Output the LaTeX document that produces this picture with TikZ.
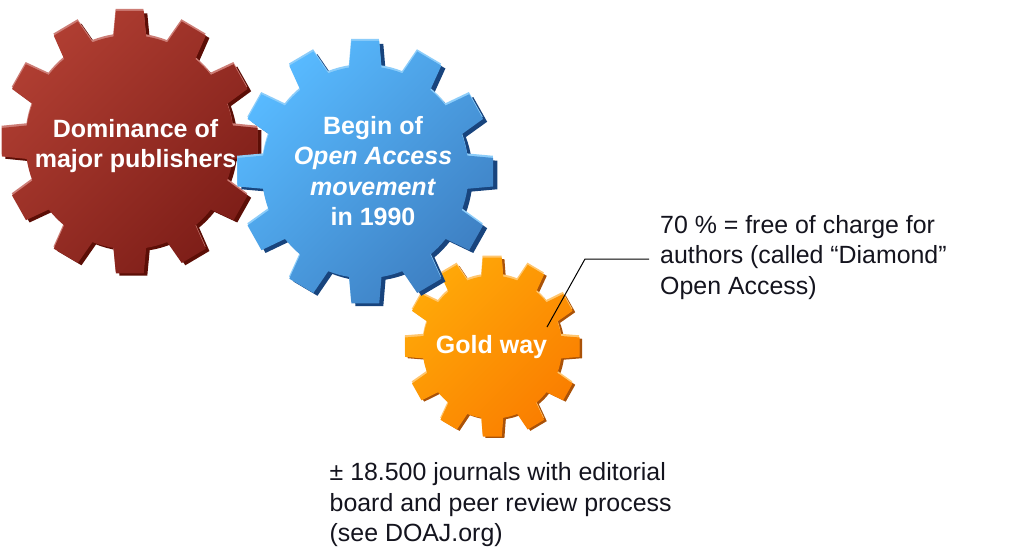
\documentclass[tikz,border=0pt]{standalone}
\usepackage{fontspec}
\setmainfont{Liberation Sans}
\definecolor{redA}{RGB}{176,62,50}
\definecolor{redB}{RGB}{126,30,24}
\definecolor{redD}{RGB}{92,14,6}
\definecolor{redL}{RGB}{205,125,118}
\definecolor{bluA}{RGB}{88,186,255}
\definecolor{bluB}{RGB}{62,128,195}
\definecolor{bluD}{RGB}{24,68,125}
\definecolor{bluL}{RGB}{140,205,250}
\definecolor{golA}{RGB}{255,168,8}
\definecolor{golB}{RGB}{250,126,0}
\definecolor{golD}{RGB}{170,82,8}
\definecolor{golL}{RGB}{255,198,110}
\definecolor{inkC}{RGB}{20,20,30}
\newcommand{\gearshape}[2]{%
  (6.2:#1 pt)
  \foreach \a in {0,30,...,330}{
    -- ({\a+6.2}:#1 pt) -- ({\a+9}:#2 pt)
    arc[start angle={\a+9},end angle={\a+21},radius=#2 pt]
    -- ({\a+23.8}:#1 pt) -- ({\a+36.2}:#1 pt)
  } -- cycle
}
\newcommand{\drawgear}[9]{% cx cy R r off dark light colA colB
  \begin{scope}[shift={(#1,-#2)},xscale=0.975]
    \fill[#6,shift={(#5,-#5-0.5)}] \gearshape{#3}{#4};
    \fill[#7] \gearshape{#3}{#4};
    \shade[shift={(0.3,-2.2)},top color=#8,bottom color=#9,shading angle=45] \gearshape{#3}{#4};
  \end{scope}
}
\tikzset{
  gearlabel/.style={text=white,font=\fontsize{25}{30.3}\selectfont\bfseries,align=center,inner sep=0pt},
  note/.style={text=inkC,font=\fontsize{24.9}{30.4}\selectfont,align=left,inner sep=0pt,anchor=north west},
  leader/.style={draw=black,line width=1pt}
}
\begin{document}
\begin{tikzpicture}[x=1pt,y=1pt]
\useasboundingbox[fill=white] (0,0) rectangle (1024,-549);
\drawgear{492}{345}{90}{71.5}{3}{golD}{golL}{golA}{golB}
\drawgear{129.5}{140}{132}{107}{4}{redD}{redL}{redA}{redB}
\drawgear{365}{170}{132}{106}{4.5}{bluD}{bluL}{bluA}{bluB}
\node[gearlabel] (red) at (135.5,-146) {Dominance of\\major publishers};
\node[gearlabel] (blue) at (373,-171) {Begin of\\\textit{Open Access}\\\textit{movement}\\in 1990};
\node[gearlabel] (gold) at (491.5,-347) {Gold way};
\node[note] (diamond) at (660,-215) {70 \% = free of charge for\\authors (called “Diamond”\\Open Access)};
\node[note] (doaj) at (329.5,-462.5) {± 18.500 journals with editorial\\board and peer review process\\(see DOAJ.org)};
\coordinate (lead) at (585,-259);
\coordinate (leadend) at (547,-327);
\draw[leader] (diamond.west |- lead) ++(-11,0) -- (lead) -- (leadend);
\end{tikzpicture}
\end{document}
